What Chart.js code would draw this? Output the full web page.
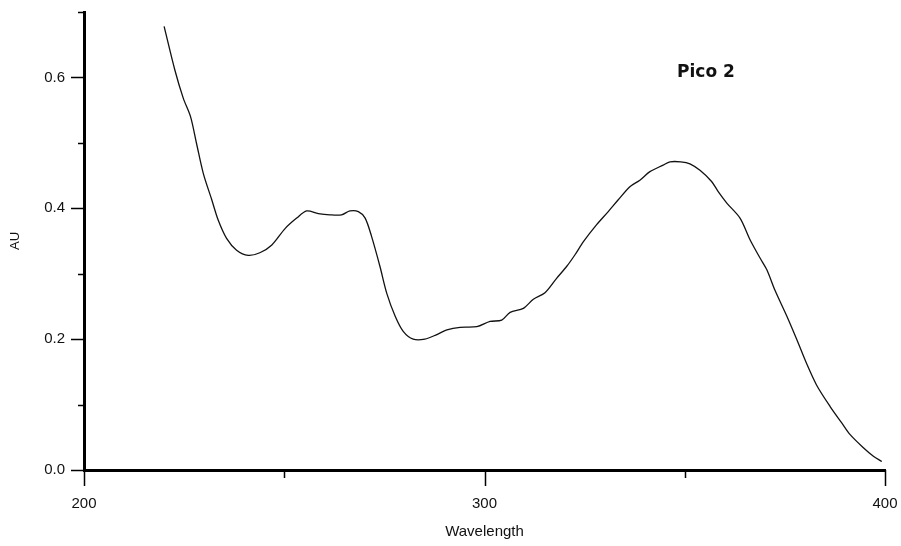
<!DOCTYPE html>
<html>
<head>
<meta charset="utf-8">
<script src="https://cdn.jsdelivr.net/npm/chart.js@4.4.1/dist/chart.umd.min.js"></script>
<style>
  html, body { margin: 0; padding: 0; background: #fff; }
  #wrap { position: relative; width: 901px; height: 546px; }
</style>
</head>
<body>
<div id="wrap"><canvas id="spectrum"></canvas></div>
<script>
(function() {
  var ctx = document.getElementById('spectrum');

  // absorbance spectrum
  var wavelength = [
    220.0, 222.7, 224.8, 226.6, 228.1, 229.8, 231.9, 233.5, 235.6, 238.1,
    241.0, 243.9, 246.9, 250.2, 253.1, 255.6, 258.5, 261.4, 264.3, 266.4,
    268.5, 270.2, 271.8, 273.9, 275.6, 277.7, 279.7, 282.2, 285.1, 288.1,
    290.6, 293.9, 298.1, 301.4, 304.3, 306.4, 309.7, 312.2, 315.1, 318.0,
    320.5, 322.6, 324.7, 328.0, 330.9, 333.4, 336.3, 338.8, 341.3, 344.6,
    346.3, 349.0, 351.3, 353.8, 356.7, 358.4, 360.5, 363.8, 366.3, 368.8,
    370.5, 372.5, 375.5, 378.0, 380.4, 382.9, 386.3, 389.2, 391.3, 394.6,
    397.1, 399.2
  ];
  var absorbance = [
    0.678, 0.611, 0.568, 0.540, 0.499, 0.453, 0.413, 0.382, 0.354, 0.336,
    0.328, 0.332, 0.344, 0.369, 0.385, 0.396, 0.392, 0.390, 0.390, 0.396,
    0.395, 0.385, 0.357, 0.311, 0.270, 0.235, 0.212, 0.200, 0.200, 0.207,
    0.214, 0.218, 0.219, 0.227, 0.229, 0.241, 0.247, 0.261, 0.271, 0.293,
    0.311, 0.329, 0.349, 0.375, 0.395, 0.413, 0.433, 0.443, 0.456, 0.466,
    0.471, 0.471, 0.468, 0.458, 0.441, 0.425, 0.408, 0.385, 0.352, 0.324,
    0.306, 0.275, 0.235, 0.199, 0.163, 0.130, 0.097, 0.072, 0.054, 0.034,
    0.021, 0.013
  ];

  var xMajor = [200, 300, 400];
  var xMinor = [250, 350];
  var yMajor = [0, 0.2, 0.4, 0.6];
  var yMinor = [0.1, 0.3, 0.5, 0.7];
  var peakLabel = 'Pico 2';

  var tickFont = { size: 15, family: '"Liberation Sans", Arial, sans-serif' };

  new Chart(ctx, {
    type: 'scatter',
    data: {
      datasets: [{
        label: peakLabel,
        data: wavelength.map(function(w, i) { return { x: w, y: absorbance[i] }; }),
        showLine: true,
        borderColor: '#111',
        borderWidth: 1.3,
        pointRadius: 0,
        tension: 0.3,
        fill: false
      }]
    },
    options: {
      responsive: true,
      maintainAspectRatio: false,
      animation: false,
      layout: { autoPadding: false, padding: { top: 12, right: 16, bottom: 0, left: 0 } },
      plugins: {
        legend: { display: false },
        tooltip: { enabled: false }
      },
      scales: {
        x: {
          type: 'linear',
          min: 200,
          max: 400,
          grid: { display: false },
          border: { display: true, color: '#000', width: 3 },
          afterFit: function(s) {
            s.height = 76;
            s.paddingLeft = 0;
            s.paddingRight = 0;
          },
          afterBuildTicks: function(axis) {
            axis.ticks = xMajor.map(function(v) { return { value: v }; });
          },
          ticks: {
            font: tickFont,
            color: '#111',
            padding: 17,
            maxRotation: 0,
            autoSkip: false
          },
          title: {
            display: true,
            text: 'Wavelength',
            font: tickFont,
            color: '#111',
            padding: { top: 0, bottom: 5 }
          }
        },
        y: {
          type: 'linear',
          min: 0,
          max: 0.7,
          grid: { display: false },
          border: { display: true, color: '#000', width: 3 },
          afterFit: function(s) {
            s.width = 84;
            s.paddingTop = 0;
            s.paddingBottom = 0;
          },
          afterBuildTicks: function(axis) {
            axis.ticks = yMajor.map(function(v) { return { value: v }; });
          },
          ticks: {
            font: tickFont,
            color: '#111',
            padding: 11,
            callback: function(v) { return v.toFixed(1); }
          },
          title: {
            display: true,
            text: 'AU',
            font: { size: 13, family: '"Liberation Sans", Arial, sans-serif' },
            color: '#111',
            padding: { top: 8, bottom: 0 }
          }
        }
      }
    },
    plugins: [{
      id: 'tickMarks',
      afterDraw: function(chart) {
        var c = chart.ctx;
        var xs = chart.scales.x;
        var ys = chart.scales.y;
        var area = chart.chartArea;
        c.save();
        c.strokeStyle = '#000';
        c.lineWidth = 1.5;
        c.beginPath();
        xMajor.forEach(function(v) {
          var px = Math.round(xs.getPixelForValue(v)) + 0.5;
          c.moveTo(px, area.bottom); c.lineTo(px, area.bottom + 16);
        });
        xMinor.forEach(function(v) {
          var px = Math.round(xs.getPixelForValue(v)) + 0.5;
          c.moveTo(px, area.bottom); c.lineTo(px, area.bottom + 8);
        });
        yMajor.forEach(function(v) {
          var py = Math.round(ys.getPixelForValue(v)) + 0.5;
          c.moveTo(area.left, py); c.lineTo(area.left - 13, py);
        });
        yMinor.forEach(function(v) {
          var py = Math.round(ys.getPixelForValue(v)) + 0.5;
          c.moveTo(area.left, py); c.lineTo(area.left - 6, py);
        });
        c.stroke();

        // peak annotation
        c.font = 'bold 17px "DejaVu Sans", sans-serif';
        c.fillStyle = '#111';
        c.textAlign = 'center';
        c.textBaseline = 'middle';
        c.fillText(peakLabel, xs.getPixelForValue(355.3), ys.getPixelForValue(0.607));
        c.restore();
      }
    }]
  });
})();
</script>
</body>
</html>
